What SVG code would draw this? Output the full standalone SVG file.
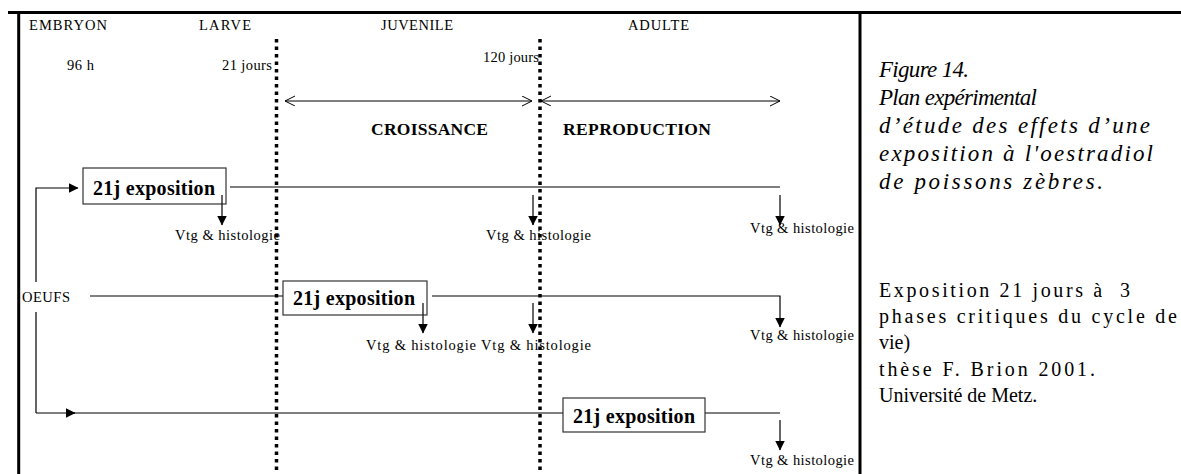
<svg xmlns="http://www.w3.org/2000/svg" width="1181" height="474" viewBox="0 0 1181 474">
<style>
.t{font-family:"Liberation Serif","Times New Roman",serif;fill:#000}
.s{font-size:14.5px}
.b{font-size:17.5px;font-weight:bold}
.bx{font-size:20px;font-weight:bold}
.it{font-size:23px;font-style:italic}
.r{font-size:20px}
.ln{stroke:#000;stroke-width:1.2;fill:none}
.box{fill:#fff;stroke:#333;stroke-width:1.2}
.dot{stroke:#000;stroke-width:3.5;stroke-dasharray:3.5 4;fill:none}
.frame{stroke:#000;stroke-width:3;fill:none}
</style>
<defs>
<marker id="fa" markerUnits="userSpaceOnUse" markerWidth="11" markerHeight="11" refX="9" refY="4.75" orient="auto"><path d="M0,0 L9.5,4.75 L0,9.5 z" fill="#000"/></marker>
<marker id="oa" markerUnits="userSpaceOnUse" markerWidth="12" markerHeight="12" refX="10" refY="5" orient="auto-start-reverse"><path d="M0,0 L10,5 L0,10" fill="none" stroke="#000" stroke-width="1"/></marker>
</defs>

<g id="frame">
<path class="frame" d="M8,12.5 H1181"/>
<path class="frame" d="M18.7,12 V474"/>
<path class="frame" d="M860,12 V474"/>
</g>

<g id="phases">
<text class="t s" x="29" y="30" textLength="78">EMBRYON</text>
<text class="t s" x="199" y="30" textLength="52">LARVE</text>
<text class="t s" x="381" y="30" textLength="72">JUVENILE</text>
<text class="t s" x="628" y="30" textLength="61">ADULTE</text>
<text class="t s" x="67" y="70" textLength="27">96 h</text>
<text class="t s" x="222" y="70" textLength="50">21 jours</text>
<text class="t s" x="483" y="62" textLength="56">120 jours</text>
<text class="t b" x="371" y="135" textLength="117">CROISSANCE</text>
<text class="t b" x="563" y="135" textLength="148">REPRODUCTION</text>
</g>

<g id="connectors">
<path class="ln" d="M285,101 H532" marker-start="url(#oa)" marker-end="url(#oa)"/>
<path class="ln" d="M541,101 H780" marker-start="url(#oa)" marker-end="url(#oa)"/>
<path class="ln" d="M36,413 V188 H78" marker-end="url(#fa)"/>
<path class="ln" d="M36,413 H75" marker-end="url(#fa)"/>
<path class="ln" d="M74,413 H563"/>
<path class="ln" d="M230,187 H780"/>
<path class="ln" d="M90,296 H283"/>
<path class="ln" d="M432,296 H780 V327" marker-end="url(#fa)"/>
<path class="ln" d="M705,413 H780"/>
<path class="ln" d="M222,195 V225" marker-end="url(#fa)"/>
<path class="ln" d="M533,195 V225" marker-end="url(#fa)"/>
<path class="ln" d="M780,195 V225" marker-end="url(#fa)"/>
<path class="ln" d="M423,303 V333" marker-end="url(#fa)"/>
<path class="ln" d="M533,303 V333" marker-end="url(#fa)"/>
<path class="ln" d="M780,420 V450" marker-end="url(#fa)"/>
</g>

<g id="oeufs">
<rect x="21" y="282" width="54" height="30" fill="#fff"/>
<text class="t s" x="22" y="302" textLength="48">OEUFS</text>
</g>

<g id="box1">
<rect class="box" x="83" y="168" width="143" height="36"/>
<text class="t bx" x="93" y="195" textLength="122">21j exposition</text>
</g>
<g id="box2">
<rect class="box" x="283" y="281" width="144" height="34"/>
<text class="t bx" x="293" y="305" textLength="122">21j exposition</text>
</g>
<g id="box3">
<rect class="box" x="563" y="398" width="142" height="34"/>
<text class="t bx" x="573" y="423" textLength="122">21j exposition</text>
</g>
<path class="ln" d="M222,195 V204"/>
<path class="ln" d="M423,303 V315"/>

<g id="labels">
<text class="t s" x="175" y="240" textLength="105">Vtg &amp; histologie</text>
<text class="t s" x="486" y="240" textLength="105">Vtg &amp; histologie</text>
<text class="t s" x="750" y="233" textLength="104">Vtg &amp; histologie</text>
<text class="t s" x="366" y="350" textLength="225">Vtg &amp; histologie Vtg &amp; histologie</text>
<text class="t s" x="750" y="340" textLength="104">Vtg &amp; histologie</text>
<text class="t s" x="750" y="465" textLength="104">Vtg &amp; histologie</text>
</g>

<g id="dotted">
<path class="dot" d="M276.5,39 V474"/>
<path class="dot" d="M540,39 V474"/>
</g>

<g id="caption">
<text class="t it" x="879" y="77" textLength="90">Figure 14.</text>
<text class="t it" x="879" y="105" textLength="158">Plan expérimental</text>
<text class="t it" x="879" y="133" textLength="271">d’étude des effets d’une</text>
<text class="t it" x="879" y="161" textLength="274">exposition à l'oestradiol</text>
<text class="t it" x="879" y="189" textLength="224">de poissons zèbres.</text>
<text class="t r" x="879" y="297" textLength="251" xml:space="preserve">Exposition 21 jours à  3</text>
<text class="t r" x="879" y="323" textLength="298">phases critiques du cycle de</text>
<text class="t r" x="879" y="349">vie)</text>
<text class="t r" x="879" y="376" textLength="216">thèse F. Brion 2001.</text>
<text class="t r" x="879" y="402">Université de Metz.</text>
</g>
</svg>
